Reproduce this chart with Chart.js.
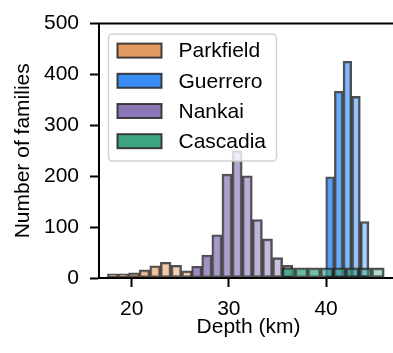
<!DOCTYPE html>
<html lang="en">
  <head>
    <meta charset="utf-8" />
    <title>Depth of families</title>
    <style>
      * {
        margin: 0;
        padding: 0;
      }
      html,
      body {
        width: 393px;
        height: 353px;
        overflow: hidden;
        background: #fff;
      }
      .chartBox {
        width: 400px;
        height: 353px;
      }
    </style>
  </head>
  <body>
    <div class="chartBox">
      <canvas id="myChart"></canvas>
    </div>

    <script src="https://cdn.jsdelivr.net/npm/chart.js"></script>

    <script>
      // histogram bins: bin centre depth (km) and number of families in it
      const parkfieldDepth = [18.05, 19.14, 20.23, 21.32, 22.41, 23.5, 24.59, 25.68];
      const parkfieldCount = [8, 8, 10, 16, 24, 31, 25, 14];

      const guerreroDepth = [40.41, 41.3, 42.19, 43.08, 43.97];
      const guerreroCount = [199, 367, 426, 357, 111];

      const nankaiDepth = [26.69, 27.73, 28.77, 29.81, 30.85, 31.89, 32.93, 33.97, 35.01, 36.05];
      const nankaiCount = [23, 45, 85, 204, 250, 201, 115, 77, 40, 25];

      const cascadiaDepth = [36.15, 37.46, 38.77, 40.08, 41.4, 42.71, 44.02, 45.33];
      const cascadiaCount = [20, 20, 20, 20, 20, 20, 20, 20];

      const xTicks = [20, 30, 40];
      const yTicks = [0, 100, 200, 300, 400, 500];

      const FONT = '"Liberation Sans", Arial, Helvetica, sans-serif';
      Chart.defaults.font.family = FONT;
      Chart.defaults.color = "#000";

      const rgba = (rgb, a) => `rgba(${rgb[0]}, ${rgb[1]}, ${rgb[2]}, ${a})`;

      // bars fade out from left to right inside each series
      function makeSeries(label, depth, count, rgb, order) {
        return {
          label: label,
          data: depth.map((d, i) => ({ x: d, y: count[i] })),
          baseRgb: rgb,
          order: order,
          backgroundColor: (ctx) => {
            const n = ctx.dataset.data.length;
            return rgba(rgb, 0.85 - (0.45 * ctx.dataIndex) / (n - 1));
          },
          borderColor: "rgba(35, 35, 35, 0.8)",
          borderWidth: 2,
          borderSkipped: false,
          barThickness: "flex",
          categoryPercentage: 1,
          barPercentage: 1,
        };
      }

      const data = {
        datasets: [
          makeSeries("Parkfield", parkfieldDepth, parkfieldCount, [227, 154, 96], 4),
          makeSeries("Guerrero", guerreroDepth, guerreroCount, [58, 141, 242], 3),
          makeSeries("Nankai", nankaiDepth, nankaiCount, [139, 119, 181], 2),
          makeSeries("Cascadia", cascadiaDepth, cascadiaCount, [61, 165, 132], 1),
        ],
      };

      // top spine + legend box inside the axes
      const frameAndLegend = {
        id: "frameAndLegend",
        afterDatasetsDraw(chart) {
          const { ctx, chartArea: a } = chart;
          ctx.save();
          ctx.strokeStyle = "#000";
          ctx.lineWidth = 2;
          ctx.beginPath();
          ctx.moveTo(a.left - 1, a.top);
          ctx.lineTo(a.right, a.top);
          ctx.stroke();

          const bx = a.left + 9.5;
          const by = a.top + 10.5;
          ctx.beginPath();
          ctx.roundRect(bx, by, 168, 127, 4);
          ctx.fillStyle = "rgba(255, 255, 255, 0.8)";
          ctx.fill();
          ctx.strokeStyle = "rgb(210, 210, 210)";
          ctx.lineWidth = 1.5;
          ctx.stroke();

          ctx.font = "21px " + FONT;
          ctx.textBaseline = "middle";
          chart.data.datasets.forEach((ds, i) => {
            const cy = by + 16.5 + i * 30.2;
            ctx.fillStyle = rgba(ds.baseRgb, 1);
            ctx.fillRect(bx + 9, cy - 7, 44, 14);
            ctx.strokeStyle = "rgba(45, 45, 45, 0.9)";
            ctx.lineWidth = 2;
            ctx.strokeRect(bx + 9, cy - 7, 44, 14);
            ctx.fillStyle = "#000";
            ctx.fillText(ds.label, bx + 70, cy + 1);
          });
          ctx.restore();
        },
      };

      const axisGrid = {
        drawOnChartArea: false,
        drawTicks: true,
        tickLength: 9,
        tickWidth: 2,
        tickColor: "#000",
        color: "#000",
        offset: false,
      };

      const config = {
        type: "bar",
        data: data,
        options: {
          responsive: true,
          maintainAspectRatio: false,
          animation: false,
          layout: { padding: { top: 18, right: 2, left: 0, bottom: 0 } },
          plugins: {
            legend: { display: false },
            tooltip: { enabled: false },
          },
          scales: {
            x: {
              type: "linear",
              // one stack on the index axis so the series overlap instead of sitting side by side
              stacked: true,
              min: 16.64,
              max: 47.4,
              offset: false,
              grid: axisGrid,
              border: { color: "#000", width: 2 },
              ticks: { font: { size: 21 }, padding: 10 },
              afterBuildTicks: (s) => {
                s.ticks = xTicks.map((v) => ({ value: v }));
              },
              afterFit: (s) => {
                s.height = 75;
              },
              title: {
                display: true,
                text: "Depth (km)",
                font: { size: 21 },
                padding: { top: 0, bottom: 13 },
              },
            },
            y: {
              stacked: false,
              min: 0,
              max: 500,
              grid: axisGrid,
              border: { color: "#000", width: 2 },
              ticks: { font: { size: 21 }, padding: 11 },
              afterBuildTicks: (s) => {
                s.ticks = yTicks.map((v) => ({ value: v }));
              },
              afterFit: (s) => {
                s.width = 99;
              },
              title: {
                display: true,
                text: "Number of families",
                font: { size: 21 },
                padding: { top: 11, bottom: 0 },
              },
            },
          },
        },
        plugins: [frameAndLegend],
      };

      const myChart = new Chart(document.getElementById("myChart"), config);
    </script>
  </body>
</html>
